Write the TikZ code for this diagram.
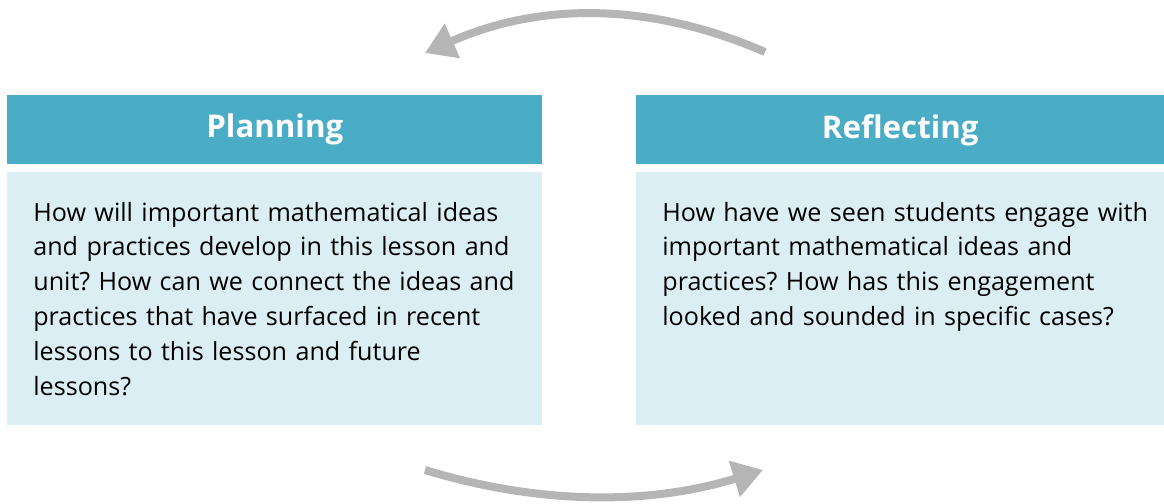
\documentclass[tikz,border=0pt]{standalone}
\usepackage{fontspec}
\setmainfont{Open Sans}
\usepackage{tikz}
\usetikzlibrary{arrows.meta,positioning}
\definecolor{headblue}{HTML}{4BACC6}
\definecolor{bodyblue}{HTML}{DBEEF3}
\definecolor{arrowgray}{HTML}{B5B5B5}
\frenchspacing

\begin{document}
\begin{tikzpicture}[x=0.02cm, y=-0.02cm, node distance=0.14cm,
  every node/.style={font=\fontsize{14.3pt}{19.8pt}\selectfont},
  head/.style={fill=headblue, text=white, minimum height=1.38cm, inner sep=0pt,
    font=\fontsize{17.8pt}{22pt}\selectfont\bfseries},
  body/.style={fill=bodyblue, minimum height=5.06cm, inner sep=0pt},
  question/.style={text width=9.9cm, align=left, inner sep=0pt, anchor=north west},
  cycle/.style={arrowgray, line width=0.16cm, -{Triangle[length=0.6cm, width=0.72cm]}}]
  \useasboundingbox (0,0) rectangle (1164,504);
  % the two columns
  \node[head, minimum width=10.7cm, anchor=north west] (plan) at (7,95) {Planning};
  \node[body, minimum width=10.7cm, below=of plan] (planbody) {};
  \node[head, minimum width=10.56cm, anchor=north west] (refl) at (636,95) {Reflecting};
  \node[body, minimum width=10.56cm, below=of refl] (reflbody) {};
  \node[question] (planq) at ([xshift=0.52cm, yshift=-0.6cm]planbody.north west) {How will important mathematical ideas\\
    and practices develop in this lesson and\\
    unit? How can we connect the ideas and\\
    practices that have surfaced in recent\\
    lessons to this lesson and future\\
    lessons?};
  \node[question] (reflq) at ([xshift=0.52cm, yshift=-0.6cm]reflbody.north west) {How have we seen students engage with\\
    important mathematical ideas and\\
    practices? How has this engagement\\
    looked and sounded in specific cases?};
  % arrows round the cycle
  \coordinate (topr) at (765,52);
  \coordinate (topl) at (425,53);
  \coordinate (botl) at (425,470);
  \coordinate (botr) at (763,470);
  \draw[cycle] (topr) .. controls (650,2) and (540,2) .. (topl);
  \draw[cycle] (botl) .. controls (540,505) and (650,505) .. (botr);
\end{tikzpicture}
\end{document}
